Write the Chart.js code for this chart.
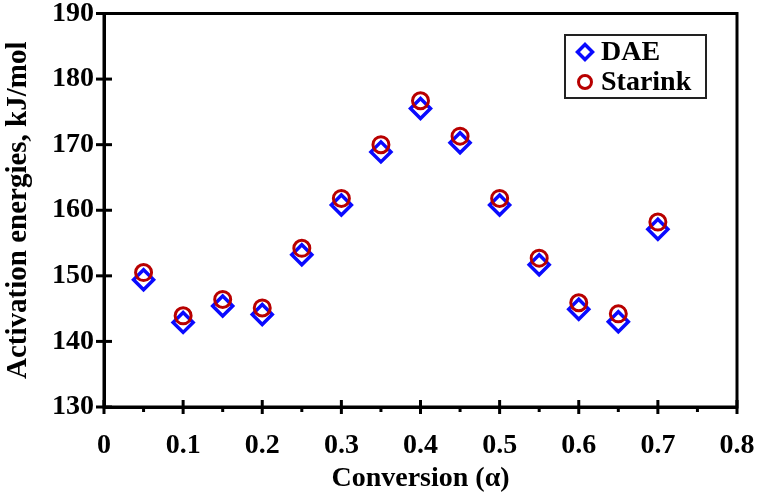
<!DOCTYPE html>
<html>
<head>
<meta charset="utf-8">
<script src="https://cdn.jsdelivr.net/npm/chart.js@4.4.0/dist/chart.umd.min.js"></script>
<style>
  html, body { margin: 0; padding: 0; background: #fff; }
  #wrap { width: 759px; height: 496px; }
</style>
</head>
<body>
<div id="wrap"><canvas id="chart" width="759" height="496"></canvas></div>
<script>
const conversion = [0.05, 0.1, 0.15, 0.2, 0.25, 0.3, 0.35, 0.4, 0.45, 0.5, 0.55, 0.6, 0.65, 0.7];
const daeValues = [149.4, 142.9, 145.4, 144.1, 153.2, 160.8, 168.9, 175.5, 170.3, 160.8, 151.7, 144.9, 143.0, 157.1];
const starinkValues = [150.5, 143.9, 146.4, 145.1, 154.2, 161.8, 170.0, 176.7, 171.3, 161.8, 152.7, 145.9, 144.2, 158.2];
const xTicks = [0, 0.1, 0.2, 0.3, 0.4, 0.5, 0.6, 0.7, 0.8];
const yTicks = [130, 140, 150, 160, 170, 180, 190];

const serif = "'Liberation Serif', 'Times New Roman', serif";

function toPoints(xs, ys) {
    return xs.map((x, i) => ({ x: x, y: ys[i] }));
}

// frame, ticks crossing the axes, and the boxed legend
const framePlugin = {
    id: 'frame',
    afterDatasetsDraw(chart) {
        const ctx = chart.ctx;
        const area = chart.chartArea;
        const xs = chart.scales.x;
        const ys = chart.scales.y;
        ctx.save();
        ctx.strokeStyle = '#000';
        ctx.lineWidth = 3;
        ctx.strokeRect(area.left, area.top, area.right - area.left, area.bottom - area.top);

        xTicks.forEach(v => {
            const px = xs.getPixelForValue(v);
            ctx.beginPath();
            ctx.moveTo(px, area.bottom - 7);
            ctx.lineTo(px, area.bottom + 7);
            ctx.stroke();
        });
        for (let i = 0; i < xTicks.length - 1; i++) {
            const px = xs.getPixelForValue((xTicks[i] + xTicks[i + 1]) / 2);
            ctx.beginPath();
            ctx.moveTo(px, area.bottom);
            ctx.lineTo(px, area.bottom + 5);
            ctx.stroke();
        }
        yTicks.forEach(v => {
            const py = ys.getPixelForValue(v);
            ctx.beginPath();
            ctx.moveTo(area.left - 8, py);
            ctx.lineTo(area.left + 8, py);
            ctx.stroke();
        });

        // legend
        const lx = 565, ly = 35, lw = 141, lh = 63;
        ctx.fillStyle = '#fff';
        ctx.fillRect(lx, ly, lw, lh);
        ctx.lineWidth = 2;
        ctx.strokeStyle = '#222';
        ctx.strokeRect(lx, ly, lw, lh);
        ctx.font = 'bold 28px ' + serif;
        ctx.textBaseline = 'middle';
        const rows = [chart.data.datasets[1], chart.data.datasets[0]];
        rows.forEach((ds, i) => {
            const cy = ly + 17 + i * 30;
            ctx.fillStyle = '#fff';
            ctx.strokeStyle = ds.borderColor;
            ctx.lineWidth = ds.borderWidth;
            Chart.helpers.drawPoint(ctx, {
                pointStyle: ds.pointStyle,
                radius: ds.pointStyle === 'circle' ? 6.5 : 7.5,
                borderWidth: ds.borderWidth
            }, 585, cy);
            ctx.fillStyle = '#000';
            ctx.fillText(ds.label, 601, cy + 1);
        });
        ctx.restore();
    }
};

new Chart(document.getElementById('chart'), {
    type: 'scatter',
    data: {
        datasets: [
            {
                label: 'Starink',
                data: toPoints(conversion, starinkValues),
                pointStyle: 'circle',
                pointRadius: 8,
                pointBorderWidth: 3,
                borderWidth: 3,
                borderColor: '#b80000',
                backgroundColor: 'rgba(0,0,0,0)',
                order: 0
            },
            {
                label: 'DAE',
                data: toPoints(conversion, daeValues),
                pointStyle: 'rectRot',
                pointRadius: 10,
                pointBorderWidth: 3.5,
                borderWidth: 3.5,
                borderColor: '#0a0aff',
                backgroundColor: 'rgba(0,0,0,0)',
                order: 1
            }
        ]
    },
    options: {
        responsive: false,
        animation: false,
        layout: { padding: { top: 13, right: 22, left: 0, bottom: 0 } },
        plugins: {
            legend: { display: false },
            tooltip: { enabled: false }
        },
        scales: {
            x: {
                type: 'linear',
                min: 0,
                max: 0.8,
                afterBuildTicks: axis => { axis.ticks = xTicks.map(v => ({ value: v })); },
                afterFit: axis => {
                    axis.height = 89;
                    axis.paddingLeft = 0;
                    axis.paddingRight = 0;
                },
                grid: { display: false, drawTicks: false },
                border: { display: true, color: '#000', width: 3 },
                ticks: {
                    color: '#000',
                    padding: 22,
                    maxRotation: 0,
                    font: { family: serif, size: 28, weight: 'bold' },
                    callback: v => String(Math.round(v * 10) / 10)
                },
                title: {
                    display: true,
                    text: 'Conversion (α)',
                    color: '#000',
                    padding: { top: 0, bottom: 0 },
                    font: { family: serif, size: 28, weight: 'bold' }
                }
            },
            y: {
                min: 130,
                max: 190,
                afterBuildTicks: axis => { axis.ticks = yTicks.map(v => ({ value: v })); },
                afterFit: axis => {
                    axis.width = 104;
                    axis.paddingTop = 0;
                    axis.paddingBottom = 0;
                },
                grid: { display: false, drawTicks: false },
                border: { display: true, color: '#000', width: 3 },
                ticks: {
                    color: '#000',
                    padding: 10,
                    font: { family: serif, size: 28, weight: 'bold' }
                },
                title: {
                    display: true,
                    text: 'Activation energies, kJ/mol',
                    color: '#000',
                    padding: { top: 1, bottom: 0 },
                    font: { family: serif, size: 29, weight: 'bold' }
                }
            }
        }
    },
    plugins: [framePlugin]
});
</script>
</body>
</html>
